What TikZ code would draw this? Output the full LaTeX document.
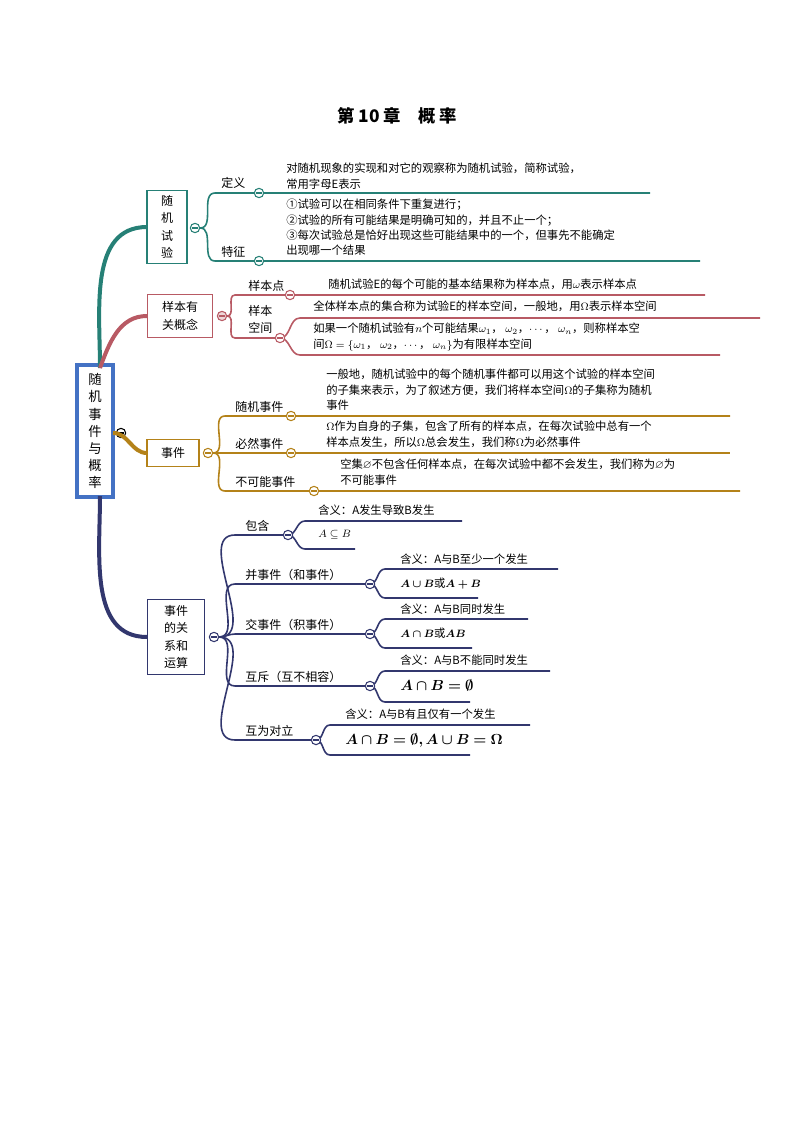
\documentclass[tikz,border=0pt]{standalone}
\usepackage{amsmath,amssymb,bm}
\usepackage{fontspec}
\setmainfont{Noto Sans CJK SC}
\usetikzlibrary{positioning}
\definecolor{teal1}{RGB}{38,128,118}
\definecolor{rose1}{RGB}{184,90,100}
\definecolor{gold1}{RGB}{180,130,25}
\definecolor{navy1}{RGB}{50,55,110}
\definecolor{blue1}{RGB}{68,114,196}
\tikzset{
  fold/.style={circle,draw=#1,fill=white,thick,inner sep=0pt,minimum size=7pt,
    path picture={\draw[#1,thick] ([xshift=-2pt]path picture bounding box.center)--([xshift=2pt]path picture bounding box.center);}},
  box/.style={draw=#1,thick,fill=white,align=center,inner sep=3pt,font=\fontsize{9}{13}\selectfont},
  lab/.style={anchor=base west,font=\fontsize{9}{11}\selectfont,inner sep=0pt},
  txt/.style={anchor=north west,align=left,font=\fontsize{8.5}{11.5}\selectfont,inner sep=0pt},
}
\begin{document}
\begin{tikzpicture}[x=0.75pt,y=-0.75pt]
    \useasboundingbox (0,0) rectangle (794,1123);
    \node[font=\fontsize{13}{15}\selectfont\bfseries] (title) at (397,116) {第 10 章\quad 概 率};

    % root
    \node[draw=blue1,line width=2.5pt,fill=white,minimum width=27pt,minimum height=99pt,inner sep=2pt,align=center,font=\fontsize{10}{12.8}\selectfont] (root) at (95,431) {随\\机\\事\\件\\与\\概\\率};
    \coordinate (rootT) at (100,368);
    \coordinate (rootR) at (113,433);
    \coordinate (rootB) at (100,496);
    \node[circle,draw,thick,fill=white,inner sep=0pt,minimum size=7pt,
      path picture={\draw[thick] ([xshift=-2pt]path picture bounding box.center)--([xshift=2pt]path picture bounding box.center);}] (fold0) at (121,433) {};

    % main branches
    \coordinate (b1) at (147,227);
    \coordinate (b2) at (147,316);
    \coordinate (b3) at (147,453);
    \coordinate (b4) at (147,637);
    \draw[teal1,line width=3pt] (rootT) to[out=90,in=180] (b1);
    \draw[rose1,line width=3pt] (rootT) to[out=70,in=180] (b2);
    \draw[gold1,line width=3pt] (rootR) to[out=0,in=180] (b3);
    \draw[navy1,line width=3pt] (rootB) to[out=-90,in=180] (b4);

    \node[box=teal1,minimum width=30pt,minimum height=55pt] (test) at (167,227) {随\\机\\试\\验};
    \node[box=rose1,minimum width=49pt,minimum height=32pt] (sample) at (180,316) {样本有\\关概念};
    \node[box=gold1,minimum width=39pt,minimum height=20pt] (event) at (173,453) {事件};
    \node[box=navy1,minimum width=43pt,minimum height=56pt] (relation) at (176,637) {事件\\的关\\系和\\运算};

    \node[fold=teal1] (fold1) at (195,228) {};
    \node[fold=rose1,fill=rose1!25] (fold2) at (222,316) {};
    \node[fold=gold1] (fold3) at (208,453) {};
    \node[fold=navy1] (fold4) at (214,637) {};

    % level 2 lines
    \foreach \name/\col/\from/\y/\xs/\xe in {def/teal1/fold1/193/215/650, feat/teal1/fold1/261/215/700,
        pt/rose1/fold2/295/235/705, sp/rose1/fold2/338/235/280,
        rnd/gold1/fold3/416/225/730, sure/gold1/fold3/453/225/730, imp/gold1/fold3/491/225/740,
        incl/navy1/fold4/535/235/288, uni/navy1/fold4/584/235/370, inter/navy1/fold4/634/235/370,
        excl/navy1/fold4/686/235/370, opp/navy1/fold4/740/235/316}
    {
      \coordinate (\name S) at (\xs,\y);
      \coordinate (\name E) at (\xe,\y);
      \draw[\col,line width=1.2pt] (\from) to[out=0,in=180] (\name S) -- (\name E);
    }

    % level 3 lines
    \foreach \name/\col/\from/\y/\xs/\xe in {spa/rose1/spE/318/300/760, spb/rose1/spE/355/300/720,
        incla/navy1/inclE/521/305/462, inclb/navy1/inclE/549/305/355,
        unia/navy1/uniE/569/385/558, unib/navy1/uniE/598/385/478,
        intera/navy1/interE/619/385/528, interb/navy1/interE/648/385/472,
        excla/navy1/exclE/671/385/550, exclb/navy1/exclE/702/385/470,
        oppa/navy1/oppE/725/330/530, oppb/navy1/oppE/755/330/470}
    {
      \coordinate (\name S) at (\xs,\y);
      \coordinate (\name E) at (\xe,\y);
      \draw[\col,line width=1.2pt] (\from) to[out=0,in=180] (\name S) -- (\name E);
    }

    \node[fold=teal1] (folddef) at (259,193) {};
    \node[fold=teal1] (foldfeat) at (259,261) {};
    \node[fold=rose1] (foldpt) at (290,295) {};
    \node[fold=rose1] (foldsp) at (spE) {};
    \node[fold=gold1] (foldrnd) at (291,416) {};
    \node[fold=gold1] (foldsure) at (291,453) {};
    \node[fold=gold1] (foldimp) at (314,491) {};
    \foreach \n in {incl,uni,inter,excl,opp}
      \node[fold=navy1] (fold\n) at (\n E) {};

    % labels
    \node[lab] (ldef) at (221,188) {定义};
    \node[lab] (lfeat) at (221,256) {特征};
    \node[lab] (lpt) at (248,290) {样本点};
    \node[txt,font=\fontsize{9}{13}\selectfont] (lsp) at (248,305) {样本\\空间};
    \node[lab] (lrnd) at (235,411) {随机事件};
    \node[lab] (lsure) at (235,448) {必然事件};
    \node[lab] (limp) at (235,486) {不可能事件};
    \node[lab] (lincl) at (245,530) {包含};
    \node[lab] (luni) at (245,579) {并事件（和事件）};
    \node[lab] (linter) at (245,629) {交事件（积事件）};
    \node[lab] (lexcl) at (245,681) {互斥（互不相容）};
    \node[lab] (lopp) at (245,735) {互为对立};

    % texts
    \node[txt] (tdef) at (286,163) {对随机现象的实现和对它的观察称为随机试验，简称试验，\\常用字母E表示};
    \node[txt] (tfeat) at (286,199) {①试验可以在相同条件下重复进行；\\②试验的所有可能结果是明确可知的，并且不止一个；\\③每次试验总是恰好出现这些可能结果中的一个，但事先不能确定\\出现哪一个结果};
    \node[txt] (tpt) at (328,279) {随机试验E的每个可能的基本结果称为样本点，用$\omega$表示样本点};
    \node[txt] (tspa) at (313,301) {全体样本点的集合称为试验E的样本空间，一般地，用$\Omega$表示样本空间};
    \node[txt] (tspb) at (313,323) {如果一个随机试验有$n$个可能结果$\omega_1$，\ $\omega_2$，$\cdots$，\ $\omega_n$，则称样本空\\间$\Omega=\{\omega_1$，\ $\omega_2$，$\cdots$，\ $\omega_n\}$为有限样本空间};
    \node[txt] (trnd) at (326,369) {一般地，随机试验中的每个随机事件都可以用这个试验的样本空间\\的子集来表示，为了叙述方便，我们将样本空间$\Omega$的子集称为随机\\事件};
    \node[txt] (tsure) at (326,421) {$\Omega$作为自身的子集，包含了所有的样本点，在每次试验中总有一个\\样本点发生，所以$\Omega$总会发生，我们称$\Omega$为必然事件};
    \node[txt] (timp) at (340,459) {空集$\varnothing$不包含任何样本点，在每次试验中都不会发生，我们称为$\varnothing$为\\不可能事件};
    \node[txt] (tincla) at (318,505) {含义：A发生导致B发生};
    \node[txt] (tinclb) at (318,530) {$A\subseteq B$};
    \node[txt] (tunia) at (400,554) {含义：A与B至少一个发生};
    \node[txt] (tunib) at (400,578) {$\bm{A\cup B}$或$\bm{A+B}$};
    \node[txt] (tintera) at (400,604) {含义：A与B同时发生};
    \node[txt] (tinterb) at (400,628) {$\bm{A\cap B}$或$\bm{AB}$};
    \node[txt] (texcla) at (400,655) {含义：A与B不能同时发生};
    \node[txt,font=\fontsize{11}{13}\selectfont] (texclb) at (400,679) {$\bm{A\cap B=\emptyset}$};
    \node[txt] (toppa) at (345,709) {含义：A与B有且仅有一个发生};
    \node[txt,font=\fontsize{11}{13}\selectfont] (toppb) at (345,733) {$\bm{A\cap B=\emptyset,A\cup B=\Omega}$};
  \end{tikzpicture}
\end{document}
